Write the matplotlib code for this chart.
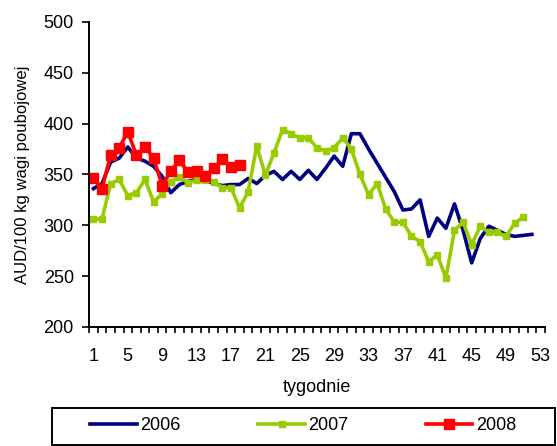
"""Weekly price of slaughter cattle in Australia, 2006-2008 (AUD/100 kg carcass weight)."""

import matplotlib

matplotlib.use("Agg")
import matplotlib.pyplot as plt
from matplotlib.patches import Rectangle
from matplotlib.ticker import FixedLocator

plt.rcParams["font.family"] = ["Liberation Sans", "DejaVu Sans"]

weeks_2006 = list(range(1, 53))
price_2006 = [
    336, 341, 362, 366, 377, 366, 363, 358, 348, 332,
    340, 343, 345, 344, 341, 339, 340, 340, 346, 341,
    349, 353, 345, 353, 345, 354, 345, 356, 368, 358,
    390, 390, 375, 361, 347, 333, 315, 316, 325, 289,
    307, 297, 321, 295, 263, 287, 299, 295, 291, 289,
    290, 291,
]

weeks_2007 = list(range(1, 52))
price_2007 = [
    306, 306, 341, 345, 329, 332, 345, 323, 331, 343,
    347, 342, 344, 344, 343, 337, 337, 317, 333, 378,
    349, 371, 394, 390, 386, 386, 376, 373, 376, 386,
    375, 350, 330, 341, 316, 303, 303, 289, 284, 264,
    271, 248, 295, 303, 281, 299, 293, 293, 289, 302,
    308,
]

weeks_2008 = list(range(1, 19))
price_2008 = [
    346, 336, 369, 376, 392, 369, 377, 366, 339, 353,
    364, 352, 353, 348, 356, 365, 357, 359,
]

week_labels = list(range(1, 54, 4))
y_ticks = list(range(200, 501, 50))

FS = 13
W, H = 557, 446

fig = plt.figure(figsize=(W / 100, H / 100), dpi=100)
ax = fig.add_axes([0.160, 0.267, 0.818, 0.684])

ax.plot(weeks_2006, price_2006, color="#000080", linewidth=2.6, label="2006")
ax.plot(weeks_2007, price_2007, color="#99CC00", linewidth=2.6,
        marker="s", markersize=5, label="2007")
ax.plot(weeks_2008, price_2008, color="#FF0000", linewidth=2.6,
        marker="s", markersize=7, label="2008")

ax.set_xlim(0.5, 53.5)
ax.set_ylim(200, 500)
ax.set_yticks(y_ticks)
ax.set_xticks(week_labels)
ax.xaxis.set_minor_locator(FixedLocator([w + 0.5 for w in range(0, 54)]))
ax.tick_params(axis="x", which="major", length=0, pad=15, labelsize=FS)
ax.tick_params(axis="x", which="minor", length=4, width=1.2, direction="out")
ax.tick_params(axis="y", length=5, width=1.2, direction="out", pad=6, labelsize=FS)

for side in ("top", "right"):
    ax.spines[side].set_visible(False)
for side in ("left", "bottom"):
    ax.spines[side].set_linewidth(1.4)

ax.set_xlabel("tygodnie", fontsize=FS, labelpad=10)
ax.set_ylabel("AUD/100 kg wagi poubojowej", fontsize=12, labelpad=10)

# legend box spanning most of the figure width, entries centred inside it
box_x0, box_x1, box_y0, box_y1 = 52, 555, 1, 408
fig.patches.append(Rectangle(
    (box_x0 / W, 1 - (H - box_y0) / H), (box_x1 - box_x0) / W, (H - box_y0 - box_y1) / H,
    transform=fig.transFigure, fill=False, edgecolor="black", linewidth=1.4,
))
fig.legend(
    loc="center",
    bbox_to_anchor=((box_x0 + box_x1) / 2 / W, 1 - 426 / H),
    ncol=3,
    frameon=False,
    fontsize=FS,
    handlelength=2.55,
    handletextpad=0.22,
    columnspacing=4.3,
    borderpad=0.0,
)

fig.savefig("out.png", dpi=100)
